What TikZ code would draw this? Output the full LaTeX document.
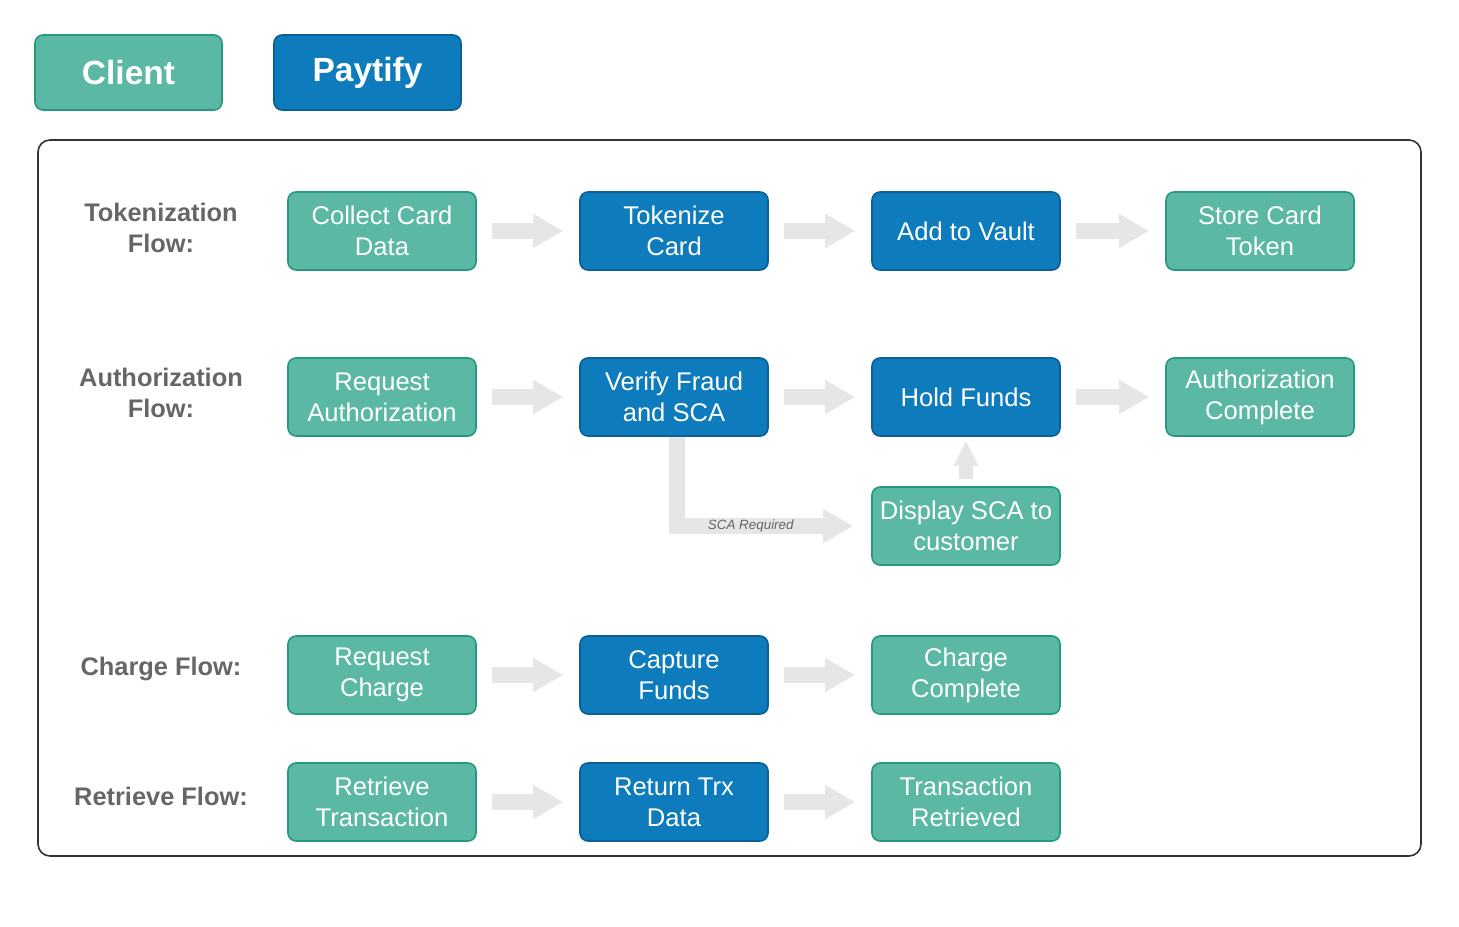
\documentclass[tikz,border=0pt]{standalone}
\usepackage{fontspec}
\setmainfont{Liberation Sans}
\usetikzlibrary{arrows.meta}

\definecolor{clientfill}{HTML}{5BB8A5}
\definecolor{clientline}{HTML}{259A80}
\definecolor{paytifyfill}{HTML}{0E7BBD}
\definecolor{paytifyline}{HTML}{0B5F97}
\definecolor{arrowgray}{HTML}{E6E6E6}
\definecolor{labelgray}{HTML}{666666}
\definecolor{framegray}{HTML}{333333}

\begin{document}
\begin{tikzpicture}[
                    x=0.5pt, y=-0.5pt,
                    every node/.style={font=\fontsize{12.8}{15.5}\selectfont, align=center},
                    clientbox/.style={rectangle, rounded corners=4pt, draw=clientline, fill=clientfill, line width=0.8pt, text=white, minimum width=94pt, minimum height=39pt, inner sep=2pt},
                    paytifybox/.style={clientbox, draw=paytifyline, fill=paytifyfill},
                    legendbox/.style={minimum width=93.5pt, minimum height=37.5pt, font=\fontsize{16.75}{20}\selectfont\bfseries},
                    flowlabel/.style={font=\fontsize{12.7}{15.5}\selectfont\bfseries, text=labelgray},
                    flowarrow/.style={draw=arrowgray, line width=8pt, -{Triangle[length=15pt, width=16pt]}, shorten <=7.5pt, shorten >=8pt},
                    smallarrow/.style={draw=arrowgray, line width=7pt, -{Triangle[length=12.5pt, width=11.5pt]}, shorten <=3.5pt, shorten >=2pt},
                    node distance=146pt,
                ]
                \useasboundingbox (0,0) rectangle (1459,926);

                % legend
                \node[clientbox, legendbox] (legendclient) at (128.5,72.5) {Client};
                \node[paytifybox, legendbox] (legendpaytify) at (367.5,72.5) {Paytify};

                \draw[framegray, line width=0.8pt, rounded corners=6pt] (38,140) rectangle (1421,856);

                % flow names
                \node[flowlabel] (toklabel) at (161,228) {Tokenization\\ Flow:};
                \node[flowlabel] (authlabel) at (161,393) {Authorization\\ Flow:};
                \node[flowlabel] (chargelabel) at (161,669) {Charge Flow:};
                \node[flowlabel] (retrievelabel) at (161,796) {Retrieve Flow:};

                % tokenization
                \node[clientbox] (collect) at (382,231) {Collect Card\\ Data};
                \node[paytifybox] (tokenize) [right of=collect] {Tokenize\\ Card};
                \node[paytifybox] (vault) [right of=tokenize] {Add to Vault};
                \node[clientbox] (store) [right of=vault, xshift=1pt] {Store Card\\ Token};

                \draw[flowarrow] (collect.east) -- (tokenize.west);
                \draw[flowarrow] (tokenize.east) -- (vault.west);
                \draw[flowarrow] (vault.east) -- (store.west);

                % authorization
                \node[clientbox] (reqauth) at (382,397) {Request\\ Authorization};
                \node[paytifybox] (verify) [right of=reqauth] {Verify Fraud\\ and SCA};
                \node[paytifybox] (hold) [right of=verify] {Hold Funds};
                \node[clientbox] (authdone) [right of=hold, xshift=1pt] {Authorization\\ Complete};
                \node[clientbox] (display) [below of=hold, node distance=64.5pt] {Display SCA to\\ customer};

                \draw[flowarrow] (reqauth.east) -- (verify.west);
                \draw[flowarrow] (verify.east) -- (hold.west);
                \draw[flowarrow] (hold.east) -- (authdone.west);
                \draw[smallarrow] (display.north) -- (hold.south);
                \draw[flowarrow, line join=miter, shorten <=0pt, shorten >=9pt] ([xshift=1.5pt]verify.south) |- node[pos=0.69, font=\fontsize{6.7}{8}\selectfont\itshape, text=labelgray] {SCA Required} (display.west);

                % charge
                \node[clientbox] (reqcharge) at (382,675) {Request\\ Charge};
                \node[paytifybox] (capture) [right of=reqcharge] {Capture\\ Funds};
                \node[clientbox] (chargedone) [right of=capture] {Charge\\ Complete};

                \draw[flowarrow] (reqcharge.east) -- (capture.west);
                \draw[flowarrow] (capture.east) -- (chargedone.west);

                % retrieve
                \node[clientbox] (retrieve) at (382,802) {Retrieve\\ Transaction};
                \node[paytifybox] (returntrx) [right of=retrieve] {Return Trx\\ Data};
                \node[clientbox] (retrieved) [right of=returntrx] {Transaction\\ Retrieved};

                \draw[flowarrow] (retrieve.east) -- (returntrx.west);
                \draw[flowarrow] (returntrx.east) -- (retrieved.west);
            \end{tikzpicture}
\end{document}
